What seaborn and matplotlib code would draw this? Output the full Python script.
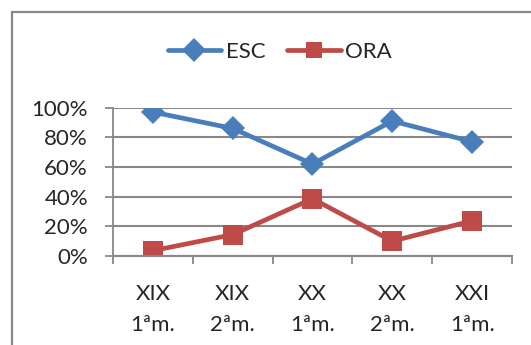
import numpy as np
import pandas as pd
import matplotlib
matplotlib.use("Agg")
import matplotlib.pyplot as plt
import seaborn as sns
from matplotlib.patches import Rectangle
from matplotlib.ticker import FixedLocator, PercentFormatter

# data
categories = ["XIX\n1ªm.", "XIX\n2ªm.", "XX\n1ªm.", "XX\n2ªm.", "XXI\n1ªm."]
esc = [0.97, 0.86, 0.62, 0.91, 0.77]
ora = [0.036, 0.144, 0.386, 0.10, 0.237]
series = ["ESC", "ORA"]
colors = ["#4A7EBB", "#BE4B48"]
markers = ["D", "s"]

df = pd.DataFrame({
    "pos": list(range(len(categories))) * 2,
    "value": esc + ora,
    "serie": ["ESC"] * len(esc) + ["ORA"] * len(ora),
})

sns.set_theme(style="white")
plt.rcParams["font.family"] = ["Lato", "DejaVu Sans"]
FS = 16

fig = plt.figure(figsize=(5.31, 3.45), dpi=100)
ax = fig.add_axes([0.2128, 0.258, 0.7514, 0.43])

sns.lineplot(data=df, x="pos", y="value", hue="serie", style="serie",
             palette=colors, markers=markers, dashes=False, hue_order=series,
             style_order=series, linewidth=3.4, markersize=12,
             markeredgewidth=0, ax=ax, legend=True)
# squares a bit larger than diamonds
for ln, ms in zip(ax.lines[:2], [12, 14]):
    ln.set_markersize(ms)

ax.set_xlim(-0.5, len(categories) - 0.5)
ax.set_ylim(0, 1)
ax.yaxis.set_major_locator(FixedLocator(np.arange(0, 1.01, 0.2)))
ax.yaxis.set_major_formatter(PercentFormatter(1.0, decimals=0))
ax.set_xticks(range(len(categories)))
ax.set_xticklabels(categories, linespacing=1.7)
ax.xaxis.set_minor_locator(FixedLocator(np.arange(-0.5, len(categories), 1.0)))
ax.tick_params(axis="x", which="major", length=0, pad=20, labelsize=FS)
ax.tick_params(axis="x", which="minor", length=6, width=1.3, color="#888888", bottom=True)
ax.tick_params(axis="y", length=6, width=1.3, color="#888888", left=True, pad=12, labelsize=FS)
ax.set_xlabel("")
ax.set_ylabel("")
ax.grid(axis="y", color="#888888", linewidth=1.5)
ax.set_axisbelow(True)
for side in ["top", "right"]:
    ax.spines[side].set_visible(False)
ax.spines["left"].set_color("#888888")
ax.spines["left"].set_linewidth(1.3)
ax.spines["bottom"].set_color("#888888")
ax.spines["bottom"].set_linewidth(1.5)

handles, labels = ax.get_legend_handles_labels()
ax.legend(handles, labels, loc="center", bbox_to_anchor=(0.527, 0.849),
          bbox_transform=fig.transFigure, ncol=2, frameon=False,
          fontsize=FS, handlelength=2.4, handletextpad=0.2, columnspacing=1.0)

# outer chart border (cropped at right/bottom)
fig.patches.append(Rectangle((12 / 531, -0.1), 1.2, 1 - 12 / 345 + 0.1,
                             transform=fig.transFigure, fill=False,
                             edgecolor="#878787", linewidth=1.6))

fig.savefig("out.png", dpi=100)
